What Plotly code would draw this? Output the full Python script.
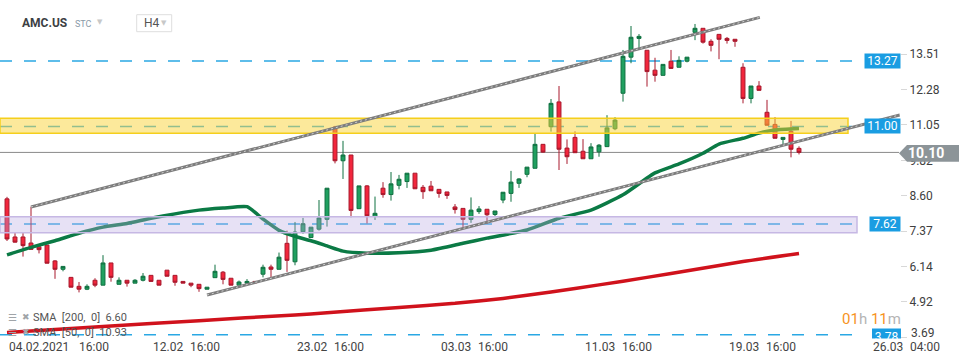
import plotly.graph_objects as go

# ---------------- data ----------------
candle_open = [8.49, 7.17, 7.17, 6.96, 6.83, 6.89, 6.34, 6.05, 5.77, 5.46,
               5.36, 5.67, 5.50, 6.27, 5.53, 5.67, 5.57, 5.67, 5.84, 5.67,
               6.02, 5.84, 5.63, 5.57, 5.53, 5.36, 5.76, 5.95, 5.74, 5.50,
               5.57, 5.63, 5.88, 6.13, 6.05, 6.95, 6.31, 7.35, 7.15, 7.44,
               7.78, 10.98, 9.81, 10.01, 8.15, 8.94, 7.88, 8.86, 8.64, 8.96,
               9.09, 9.38, 8.89, 8.93, 8.82, 8.73, 8.21, 8.16, 7.78, 8.05,
               8.13, 7.95, 8.45, 8.68, 9.03, 9.34, 9.55, 10.38, 10.99, 11.85,
               10.25, 10.62, 10.14, 9.88, 10.12, 10.30, 10.92, 12.15, 13.40, 14.05,
               13.64, 12.95, 12.77, 13.26, 13.05, 13.26, 14.26, 14.40, 13.95, 14.19,
               14.05, 14.02, 13.05, 11.97, 12.40, 11.49, 11.07, 10.55, 10.83, 10.24]
candle_high = [8.56, 7.32, 7.32, 8.22, 6.83, 6.89, 6.37, 6.15, 5.77, 5.61,
               5.53, 5.74, 6.54, 6.27, 5.77, 5.67, 5.71, 5.92, 5.84, 5.67,
               6.02, 5.84, 5.63, 5.57, 5.53, 5.43, 6.21, 5.99, 5.74, 5.66,
               5.71, 5.63, 6.21, 6.21, 6.63, 7.39, 7.69, 7.83, 7.51, 8.45,
               8.86, 11.02, 10.50, 10.01, 8.94, 8.97, 8.57, 9.07, 9.42, 9.32,
               9.38, 9.38, 8.97, 9.11, 8.82, 8.73, 8.31, 8.16, 8.54, 8.24,
               8.13, 8.07, 8.72, 9.46, 9.21, 9.59, 10.74, 10.38, 11.95, 12.40,
               10.55, 10.83, 10.56, 10.42, 10.39, 11.39, 11.32, 13.65, 14.48, 14.20,
               13.64, 13.38, 13.15, 13.65, 13.43, 13.40, 14.55, 14.40, 14.02, 14.19,
               14.10, 14.02, 13.19, 12.40, 12.57, 11.92, 11.32, 10.62, 11.19, 10.31]
candle_low = [7.03, 6.98, 6.49, 6.74, 6.60, 6.26, 5.72, 5.98, 5.43, 5.25,
              5.33, 5.43, 5.50, 5.62, 5.53, 5.45, 5.57, 5.63, 5.63, 5.50,
              5.81, 5.48, 5.57, 5.43, 5.27, 5.36, 5.76, 5.53, 5.50, 5.50,
              5.57, 5.58, 5.77, 5.76, 6.05, 5.96, 6.19, 7.28, 7.15, 7.39,
              7.53, 9.72, 9.18, 7.85, 8.15, 7.64, 7.76, 8.53, 8.43, 8.82,
              8.87, 8.84, 8.49, 8.77, 8.53, 8.49, 7.98, 7.47, 7.66, 7.97,
              7.62, 7.87, 8.34, 8.39, 8.87, 9.24, 9.55, 10.09, 10.82, 9.49,
              9.70, 10.09, 9.88, 9.88, 9.95, 10.30, 10.87, 11.86, 13.19, 13.65,
              12.38, 12.55, 12.77, 13.01, 13.05, 13.22, 13.99, 13.87, 13.60, 13.33,
              13.87, 13.76, 11.80, 11.80, 12.25, 11.04, 10.59, 10.36, 9.93, 10.03]
candle_close = [7.10, 6.99, 6.87, 6.74, 6.73, 6.26, 6.05, 6.15, 5.43, 5.36,
                5.46, 5.50, 6.27, 5.77, 5.67, 5.57, 5.67, 5.81, 5.63, 5.50,
                5.81, 5.60, 5.57, 5.50, 5.38, 5.43, 5.98, 5.70, 5.50, 5.61,
                5.63, 5.58, 6.12, 6.05, 6.47, 6.36, 7.34, 7.63, 7.51, 7.83,
                8.86, 9.81, 10.01, 8.09, 8.94, 7.90, 7.99, 8.64, 9.01, 9.17,
                9.38, 8.84, 8.74, 8.77, 8.68, 8.61, 8.12, 7.78, 8.10, 8.14,
                7.94, 8.07, 8.72, 9.07, 9.18, 9.59, 10.38, 10.11, 11.80, 10.21,
                9.95, 10.09, 9.88, 10.29, 10.35, 10.95, 11.22, 13.43, 14.09, 14.12,
                12.90, 12.77, 13.15, 13.01, 13.29, 13.40, 14.40, 13.92, 13.81, 14.02,
                13.98, 13.95, 11.97, 12.40, 12.25, 11.04, 10.59, 10.62, 10.21, 10.10]
candle_index = list(range(len(candle_open)))

sma50_index = [0, 3, 6, 9, 12, 15, 18, 21, 24, 27, 30, 32, 34, 36, 38, 40, 42, 45,
               49, 53, 57, 60, 65, 69, 73, 77, 81, 84, 87, 89, 92, 94, 96, 99]
sma50_value = [6.55, 6.81, 7.04, 7.30, 7.51, 7.64, 7.82, 7.97, 8.10, 8.17, 8.22, 7.79,
               7.40, 7.19, 7.04, 6.86, 6.68, 6.61, 6.62, 6.71, 6.95, 7.13, 7.41, 7.82,
               8.10, 8.63, 9.39, 9.70, 10.07, 10.39, 10.59, 10.77, 10.88, 10.93]
sma200_index = [0, 12, 24, 36, 40, 49, 56, 62, 68, 74, 80, 86, 92, 99]
sma200_value = [3.86, 4.07, 4.27, 4.47, 4.54, 4.73, 4.87, 5.04, 5.26, 5.51, 5.77,
                6.04, 6.32, 6.60]

level_values = [13.27, 11.00, 7.62, 3.78]
level_texts = ["13.27", "11.00", "7.62", "3.78"]
zone_yellow = [10.76, 11.28]
zone_purple = [7.32, 7.87]
channel_upper = [(3, 8.21), (94.1, 14.78)]
channel_lower = [(25.0, 5.16), (111.6, 11.40)]
current_price = 10.10

y_tick_values = [3.69, 4.92, 6.14, 7.37, 8.60, 9.82, 11.05, 12.28, 13.51]
date_labels = ["04.02.2021", "12.02", "23.02", "03.03", "11.03", "19.03", "26.03"]
time_labels = ["16:00", "16:00", "16:00", "16:00", "16:00", "16:00", "04:00"]
label_candles = [0, 18, 36, 54, 72, 90, 108]

# ---------------- layout geometry ----------------
W, H = 970, 364
PR, PB = 900, 340          # plot right / bottom in px (plot starts at 0,0)
X_RANGE = [-0.875, 111.625]
Y_RANGE = [3.600, 15.381]
FONT = "Roboto"


def pxx(px):
    return px / PR


def pxy(py):
    return (PB - py) / PB


def cand_px(i):
    # pixel position of a candle index on the x axis
    return (i - X_RANGE[0]) / (X_RANGE[1] - X_RANGE[0]) * PR


fig = go.Figure()

fig.add_trace(go.Candlestick(
    x=candle_index, open=candle_open, high=candle_high, low=candle_low, close=candle_close,
    increasing=dict(line=dict(color="#0f7040", width=1), fillcolor="#20a060"),
    decreasing=dict(line=dict(color="#a8182c", width=1), fillcolor="#f2263c"),
    whiskerwidth=0, showlegend=False, hoverinfo="skip"))

fig.add_trace(go.Scatter(x=sma200_index, y=sma200_value, mode="lines",
                         line=dict(color="#d0121c", width=3.5, shape="spline", smoothing=0.6),
                         showlegend=False, hoverinfo="skip"))
fig.add_trace(go.Scatter(x=sma50_index, y=sma50_value, mode="lines",
                         line=dict(color="#0b7a45", width=3.5, shape="spline", smoothing=0.5),
                         showlegend=False, hoverinfo="skip"))

shapes = []
for lv in level_values:
    shapes.append(dict(type="line", xref="paper", yref="y", x0=0, x1=pxx(857), y0=lv, y1=lv,
                       line=dict(color="#2aa8e4", width=1.5, dash="12px,12px"), layer="below"))
shapes.append(dict(type="line", xref="paper", yref="y", x0=0, x1=pxx(899),
                   y0=current_price, y1=current_price,
                   line=dict(color="#8a8a8a", width=1), layer="below"))
shapes.append(dict(type="rect", xref="paper", yref="y", x0=0, x1=pxx(848),
                   y0=zone_yellow[0], y1=zone_yellow[1],
                   fillcolor="rgba(250,212,55,0.5)", line=dict(color="#f5cf1c", width=1.5),
                   layer="above"))
shapes.append(dict(type="rect", xref="paper", yref="y", x0=0, x1=pxx(857),
                   y0=zone_purple[0], y1=zone_purple[1],
                   fillcolor="rgba(185,170,225,0.35)", line=dict(color="#c6b8e4", width=1.5),
                   layer="above"))
for (a, b) in (channel_upper, channel_lower):
    shapes.append(dict(type="line", xref="x", yref="y", x0=a[0], y0=a[1], x1=b[0], y1=b[1],
                       line=dict(color="#7d7d7d", width=3), layer="above"))
    shapes.append(dict(type="line", xref="x", yref="y", x0=a[0], y0=a[1], x1=b[0], y1=b[1],
                       line=dict(color="#cfcfcf", width=1, dash="2px,3px"), layer="above"))
tag_pts = [(899, 153.3), (907, 145), (959, 145), (959, 161.7), (907, 161.7)]
path = "M " + " L ".join(f"{pxx(x):.5f},{pxy(y):.5f}" for x, y in tag_pts) + " Z"
shapes.append(dict(type="path", xref="paper", yref="paper", path=path,
                   fillcolor="#8c9498", line=dict(width=0), layer="above"))
shapes.append(dict(type="rect", xref="paper", yref="paper", x0=pxx(136.7), x1=pxx(171.7),
                   y0=pxy(31.7), y1=pxy(14.7), line=dict(color="#dedede", width=1),
                   fillcolor="white", layer="above"))
# lowest level box: half hidden behind the time-axis strip, as in the reference
shapes.append(dict(type="rect", xref="paper", yref="paper", x0=pxx(872), x1=pxx(901),
                   y0=pxy(342.5), y1=pxy(328.5), fillcolor="#1a9de2", line=dict(width=0),
                   layer="above",
                   label=dict(text=level_texts[3], textposition="middle center",
                              font=dict(family=FONT, size=12, color="white"))))
shapes.append(dict(type="rect", xref="paper", yref="paper", x0=pxx(860), x1=pxx(906),
                   y0=pxy(352), y1=pxy(338.5), fillcolor="white", line=dict(width=0),
                   layer="above"))

ann = []
for lv, t in zip(level_values[:3], level_texts[:3]):
    ann.append(dict(xref="paper", yref="y", x=pxx(901), y=lv, xanchor="right", yanchor="middle",
                    text=t, showarrow=False, bgcolor="#1a9de2", width=30 if len(t) == 4 else 35,
                    height=14, borderpad=0, font=dict(family=FONT, size=12, color="white")))
ann.append(dict(xref="paper", yref="paper", x=pxx(926), y=pxy(153.3), xanchor="center",
                yanchor="middle", text="<b>10.10</b>", showarrow=False,
                font=dict(family=FONT, size=14, color="white")))
# lowest price label, lifted slightly as the platform does at the bottom edge
ann.append(dict(xref="paper", yref="paper", x=pxx(909), y=pxy(333.3), xanchor="left",
                yanchor="middle", text=f"{y_tick_values[0]:.2f}", showarrow=False,
                font=dict(family=FONT, size=12, color="#404040")))
for c, d, t in zip(label_candles, date_labels, time_labels):
    gap = 70 if c == 0 else 36.5
    x0 = cand_px(c) + 0.3
    ann.append(dict(xref="paper", yref="paper", x=pxx(x0), y=pxy(347), xanchor="left",
                    yanchor="middle", text=d, showarrow=False,
                    font=dict(family=FONT, size=12, color="#444444")))
    ann.append(dict(xref="paper", yref="paper", x=pxx(x0 + gap), y=pxy(347), xanchor="left",
                    yanchor="middle", text=t, showarrow=False,
                    font=dict(family=FONT, size=12, color="#444444")))
ann += [
    dict(xref="paper", yref="paper", x=pxx(20), y=pxy(23.3), xanchor="left", yanchor="middle",
         text="<b>AMC.US</b>", showarrow=False, font=dict(family=FONT, size=12, color="#3c4043")),
    dict(xref="paper", yref="paper", x=pxx(72.5), y=pxy(24.5), xanchor="left", yanchor="middle",
         text="STC", showarrow=False, font=dict(family=FONT, size=9, color="#8a9aa8")),
    dict(xref="paper", yref="paper", x=pxx(95), y=pxy(22), xanchor="left", yanchor="middle",
         text="▼", showarrow=False, font=dict(family="DejaVu Sans", size=7, color="#c8c8c8")),
    dict(xref="paper", yref="paper", x=pxx(141.5), y=pxy(23.3), xanchor="left", yanchor="middle",
         text="H4", showarrow=False, font=dict(family=FONT, size=12, color="#555555")),
    dict(xref="paper", yref="paper", x=pxx(159), y=pxy(23), xanchor="left", yanchor="middle",
         text="▼", showarrow=False, font=dict(family="DejaVu Sans", size=7, color="#c8c8c8")),
]
for yy, t in ((317.3, "SMA  [200,  0]  6.60"), (332, "SMA  [50,  0]  10.93")):
    ann.append(dict(xref="paper", yref="paper", x=pxx(6), y=pxy(yy), xanchor="left",
                    yanchor="middle", text="☰", showarrow=False,
                    font=dict(family="DejaVu Sans", size=10, color="#a0a4a8")))
    ann.append(dict(xref="paper", yref="paper", x=pxx(19.5), y=pxy(yy), xanchor="left",
                    yanchor="middle", text="✖", showarrow=False,
                    font=dict(family="DejaVu Sans", size=9, color="#a0a4a8")))
    ann.append(dict(xref="paper", yref="paper", x=pxx(31), y=pxy(yy), xanchor="left",
                    yanchor="middle", text=t, showarrow=False,
                    font=dict(family=FONT, size=11, color="#555555")))
ann.append(dict(xref="paper", yref="paper", x=pxx(903), y=pxy(319.3), xanchor="right",
                yanchor="middle", showarrow=False,
                text="<span style='color:#f7931e'>01</span><span style='color:#b4b4b4'>h</span> "
                     "<span style='color:#f7931e'>11</span><span style='color:#b4b4b4'>m</span>",
                font=dict(family=FONT, size=15)))

fig.update_layout(
    width=W, height=H, margin=dict(l=0, r=W - PR, t=0, b=H - PB),
    paper_bgcolor="white", plot_bgcolor="white", showlegend=False,
    shapes=shapes, annotations=ann,
    xaxis=dict(range=X_RANGE, showticklabels=False, showgrid=False, zeroline=False,
               showline=False, ticks="", rangeslider=dict(visible=False), fixedrange=True),
    yaxis=dict(range=Y_RANGE, side="right", tickvals=y_tick_values,
               ticktext=[""] + [f"{v:.2f}" for v in y_tick_values[1:]], showgrid=False,
               zeroline=False, showline=False, ticks="outside", ticklen=6, tickcolor="#d8d8d8",
               tickfont=dict(family=FONT, size=12, color="#404040"), fixedrange=True),
)

fig.write_html("out.html", config={"displayModeBar": False},
               post_script="document.body.style.margin='0px';document.body.style.overflow='hidden';")
